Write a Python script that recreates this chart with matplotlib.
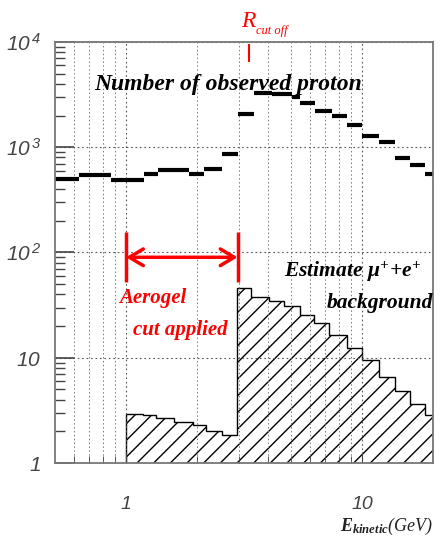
import numpy as np
import matplotlib
matplotlib.use('Agg')
import matplotlib.pyplot as plt
from matplotlib.ticker import FixedLocator, NullFormatter

plt.rcParams['mathtext.fontset'] = 'custom'
plt.rcParams['mathtext.rm'] = 'Liberation Serif:bold:italic'
plt.rcParams['mathtext.it'] = 'Liberation Serif:bold:italic'
plt.rcParams['mathtext.sf'] = 'Liberation Sans:italic'
plt.rcParams['hatch.linewidth'] = 1.0

# observed protons per energy bin (GeV)
proton_edges = [0.5, 0.631, 0.863, 1.19, 1.37, 1.85, 2.15, 2.54, 2.97, 3.5, 4.14,
                5.04, 5.45, 6.31, 7.45, 8.63, 10.0, 11.8, 13.8, 16.0, 18.5, 20.0]
proton_counts = [496, 541, 485, 553, 604, 553, 617, 858, 2060, 3300, 3200,
                 3000, 2620, 2230, 1970, 1620, 1270, 1120, 785, 674, 553]

# estimated mu+ + e+ background
bkg_edges = [1.0, 1.18, 1.34, 1.60, 1.93, 2.19, 2.54, 2.94, 3.40, 4.02, 4.66,
             5.45, 6.25, 7.24, 8.63, 10.0, 11.8, 13.8, 16.0, 18.5, 20.0]
bkg_counts = [2.93, 2.86, 2.68, 2.46, 2.30, 2.02, 1.85, 46.4, 38.0, 34.9, 31.3,
              25.7, 21.5, 16.6, 12.4, 9.6, 6.6, 4.85, 3.65, 2.87]

y_ticks = [1, 10, 100, 1000, 10000]
y_labels = [r'$\mathsf{1}$', r'$\mathsf{10}$', r'$\mathsf{10}^{\,\mathsf{2}}$',
            r'$\mathsf{10}^{\,\mathsf{3}}$', r'$\mathsf{10}^{\,\mathsf{4}}$']
x_ticks = [1, 10]
x_labels = ['1', '10']

fig = plt.figure(figsize=(4.4, 5.45), dpi=100)
ax = fig.add_axes([0.125, 0.1505, 0.859, 0.7725])
ax.set_xscale('log')
ax.set_yscale('log')
ax.set_xlim(0.5, 20)
ax.set_ylim(1, 10000)

minor_x = [0.6, 0.7, 0.8, 0.9, 2, 3, 4, 5, 6, 7, 8, 9]
ax.xaxis.set_major_locator(FixedLocator(x_ticks))
ax.xaxis.set_minor_locator(FixedLocator(minor_x))
ax.xaxis.set_minor_formatter(NullFormatter())
ax.set_xticklabels(x_labels, fontsize=14, family='Liberation Sans', style='italic')
ax.set_yticks(y_ticks)
ax.set_yticklabels(y_labels, fontsize=15)
ax.yaxis.set_minor_formatter(NullFormatter())

ax.grid(True, which='major', axis='both', ls=(0, (1.5, 2.5)), color='#555555', lw=0.8)
ax.grid(True, which='minor', axis='x', ls=(0, (1.5, 2.5)), color='#777777', lw=0.7)
ax.tick_params(axis='y', which='major', direction='in', length=14, width=1.2, pad=10,
               colors='#444444')
ax.tick_params(axis='y', which='minor', direction='in', length=7, width=1.0, colors='#444444')
ax.tick_params(axis='x', which='major', direction='in', length=8, pad=24, colors='#444444')
ax.tick_params(axis='x', which='minor', direction='in', length=5, colors='#444444')
for s in ax.spines.values():
    s.set_color('#777777')
    s.set_linewidth(1.3)

ax.stairs(bkg_counts, bkg_edges, baseline=1, fill=True, hatch='//',
          facecolor='none', edgecolor='black', lw=1.0)
ax.hlines(proton_counts, proton_edges[:-1], proton_edges[1:], color='black', lw=3)

# annotations
ax.text(2.72, 3980, 'Number of observed proton', ha='center', va='center',
        fontsize=17, family='Liberation Serif', weight='bold', style='italic')
ax.text(3.3, 15500, 'R', ha='center', va='center', color='red', fontsize=17,
        family='Liberation Serif', style='italic', clip_on=False)
ax.text(3.55, 12800, 'cut off', ha='left', va='center', color='red', fontsize=9,
        family='Liberation Serif', style='italic', clip_on=False)
ax.vlines(3.33, 6450, 9550, color='red', lw=1.5)

ax.annotate('', xy=(1.0, 90), xytext=(2.97, 90),
            arrowprops=dict(arrowstyle='<->,head_length=1.0,head_width=0.6', color='red', lw=2.5,
                            shrinkA=0, shrinkB=0))
ax.vlines([1.0, 2.97], 52, 158, color='red', lw=2.5)
ax.text(1.30, 37.3, 'Aerogel', ha='center', va='center', color='red', fontsize=15,
        family='Liberation Serif', weight='bold', style='italic')
ax.text(1.70, 18.5, 'cut applied', ha='center', va='center', color='red', fontsize=15,
        family='Liberation Serif', weight='bold', style='italic')

ax.text(9.16, 65.9, r'Estimate $\mu^{+}$+$e^{+}$', ha='center', va='center', fontsize=15.5,
        family='Liberation Serif', weight='bold', style='italic')
ax.text(11.9, 33.4, 'background', ha='center', va='center', fontsize=15.5,
        family='Liberation Serif', weight='bold', style='italic')

ax.text(1.0, -0.15, r'$E_{kinetic}$(GeV)', transform=ax.transAxes, ha='right', va='center',
        fontsize=13, family='Liberation Serif', style='italic', color='#222222')

fig.savefig('out.png', dpi=100)
